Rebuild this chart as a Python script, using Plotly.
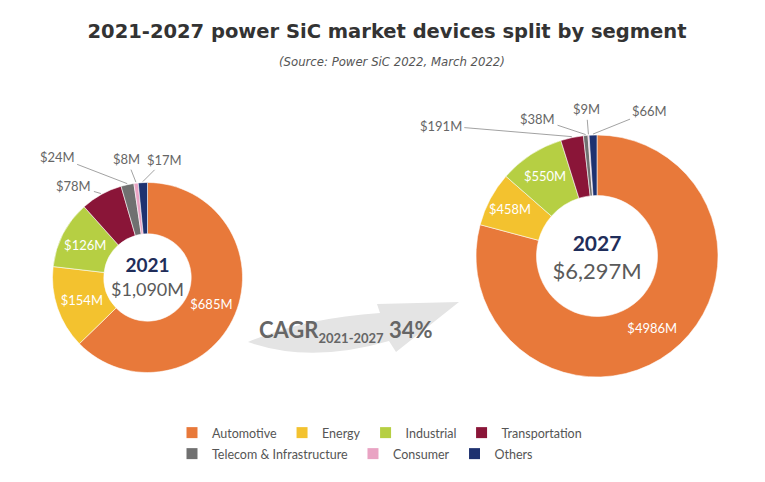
import math
import plotly.graph_objects as go

# data
segments = ["Automotive", "Energy", "Industrial", "Transportation",
            "Telecom & Infrastructure", "Consumer", "Others"]
colors = ["#E8793A", "#F3C22F", "#B6CF43", "#8A1538", "#707070", "#E9A3C3", "#1E3270"]
values_2021 = [685, 154, 126, 78, 24, 8, 17]
values_2027 = [4986, 458, 550, 191, 38, 9, 66]
years = ["2021", "2027"]
totals = ["$1,090M", "$6,297M"]
cagr_period = "2021-2027"
cagr_value = "34%"

# the page body has an 8px margin, so the figure is shrunk and shifted by it
OX, OY = 8, 8
W, H = 765 - OX, 482 - OY


def px(x):
    return (x - OX) / W


def py(y):
    return 1 - (y - OY) / H


outer_segments = segments[3:]  # small slices get a label outside with a leader line

# donut geometry in page pixels: centre x, centre y, radius, hole
donuts = [
    dict(values=values_2021, cx=147.5, cy=277.5, r=95, hole=0.46, year=years[0], total=totals[0],
         year_size=19, total_size=18, offsets=[(-27, -8), (-70, -27), (-9, -23), (22, -22)]),
    dict(values=values_2027, cx=597, cy=256, r=121, hole=0.5, year=years[1], total=totals[1],
         year_size=21, total_size=22, offsets=[(-131, -11), (-48, -16), (-2, -25), (57, -23)]),
]

fig = go.Figure()
annotations = []

for d in donuts:
    vals = d["values"]
    total = sum(vals)
    texts = ["" if s in outer_segments else f"${v}M" for s, v in zip(segments, vals)]
    fig.add_trace(go.Pie(
        labels=segments,
        values=vals,
        text=texts,
        textinfo="text",
        textposition="inside",
        insidetextorientation="horizontal",
        insidetextfont=dict(family="Lato", size=13, color="white"),
        marker=dict(colors=colors, line=dict(color="rgba(255,255,255,0.8)", width=0.7)),
        hole=d["hole"],
        sort=False,
        direction="clockwise",
        rotation=0,
        showlegend=False,
        hoverinfo="label+value",
        domain=dict(x=[px(d["cx"] - d["r"]), px(d["cx"] + d["r"])],
                    y=[py(d["cy"] + d["r"]), py(d["cy"] - d["r"])]),
        title=dict(
            text=(f"<span style='color:#1F2D5A;font-size:{d['year_size']}px'><b>{d['year']}</b></span><br>"
                  f"<span style='color:#5a5a5a;font-size:{d['total_size']}px'>{d['total']}</span>"),
            position="middle center",
            font=dict(family="Lato", size=d["total_size"], color="#5a5a5a"),
        ),
    ))

    # leader-line labels for the thin slices, tips placed on the slice mid-angle
    cum = 0
    k = 0
    for s, v in zip(segments, vals):
        mid = (cum + v / 2) / total * 2 * math.pi
        cum += v
        if s not in outer_segments:
            continue
        tx = d["cx"] + (d["r"] + 1) * math.sin(mid)
        ty = d["cy"] - (d["r"] + 1) * math.cos(mid)
        ax, ay = d["offsets"][k]
        k += 1
        annotations.append(dict(
            x=tx, y=ty, xref="x", yref="y", ax=ax, ay=ay,
            text=f"${v}M", showarrow=True, arrowhead=0, arrowwidth=0.8,
            arrowcolor="#8a8a8a", standoff=0, startstandoff=1,
            font=dict(family="Lato", size=13, color="#666666"),
        ))

# legend entries (two rows, like the reference)
for i, (s, c) in enumerate(zip(segments, colors)):
    fig.add_trace(go.Scatter(
        x=[None], y=[None], mode="markers", name=s,
        marker=dict(symbol="square", size=11, color=c),
        legend="legend" if i < 4 else "legend2",
    ))

annotations.append(dict(
    x=px(392), y=py(52), xref="paper", yref="paper", showarrow=False,
    text="<i>(Source: Power SiC 2022, March 2022)</i>",
    font=dict(family="DejaVu Sans Condensed, Open Sans", size=13, color="#555555"),
))
annotations.append(dict(
    x=346, y=331, xref="x", yref="y", showarrow=False,
    text=(f"<b>CAGR<sub><span style='font-size:13px'>{cagr_period}</span></sub> "
          f"{cagr_value}</b>"),
    font=dict(family="Lato", size=22, color="#666666"),
))

legend_style = dict(orientation="h", xanchor="left", yanchor="middle",
                    bgcolor="rgba(0,0,0,0)", itemwidth=30,
                    font=dict(family="Lato", size=12.5, color="#555555"))

fig.update_layout(
    width=W, height=H,
    margin=dict(l=0, r=0, t=0, b=0),
    paper_bgcolor="white", plot_bgcolor="white",
    title=dict(text="<b>2021-2027 power SiC market devices split by segment</b>",
               x=px(387), y=py(31), xanchor="center", yanchor="middle",
               font=dict(family="DejaVu Sans", size=19.5, color="#333333")),
    xaxis=dict(range=[OX, OX + W], visible=False, fixedrange=True),
    yaxis=dict(range=[OY + H, OY], visible=False, fixedrange=True),
    legend=dict(x=px(172), y=py(433), **legend_style),
    legend2=dict(x=px(172), y=py(454), **legend_style),
    annotations=annotations,
    shapes=[dict(
        type="path", xref="x", yref="y", layer="below",
        path="M 248,342 Q 305,318 380,313 L 377,304 L 459,302 L 396,352 L 389,341 Q 310,364 248,342 Z",
        fillcolor="#E4E4E4", line=dict(width=0),
    )],
)

fig.write_html("out.html")
